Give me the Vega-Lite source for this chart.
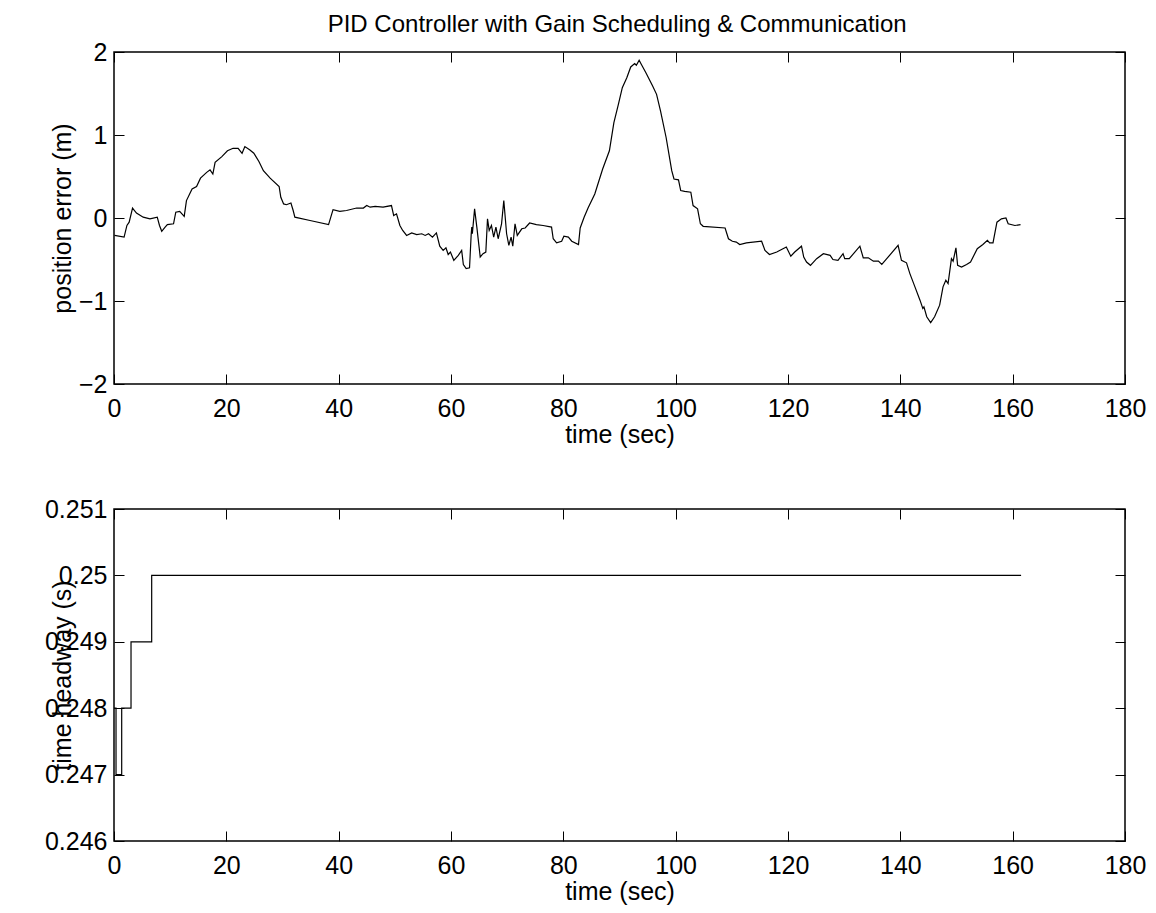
{
  "$schema": "https://vega.github.io/schema/vega-lite/v6.json",
  "background": "white",
  "padding": {"left": 43, "top": 13, "right": 5, "bottom": 5},
  "autosize": {"type": "pad"},
  "bounds": "flush",
  "spacing": 125,
  "title": {"text": "PID Controller with Gain Scheduling & Communication", "anchor": "middle", "fontSize": 24, "fontWeight": "normal", "font": "Liberation Sans", "color": "black", "offset": 2, "dx": 22},
  "config": {
    "font": "Liberation Sans",
    "view": {"stroke": "black", "strokeWidth": 1.5},
    "axis": {"grid": false, "domain": false, "tickColor": "black", "tickSize": -10, "tickWidth": 1, "labelColor": "black", "labelFontSize": 25, "labelFont": "Liberation Sans", "labelFlush": false, "labelOverlap": false, "titleFontSize": 25, "titleFont": "Liberation Sans", "titleFontWeight": "normal", "titleColor": "black"},
    "axisX": {"labelPadding": 22, "titleBaseline": "middle", "titleY": 50},
    "axisY": {"labelPadding": 17, "titleBaseline": "middle", "titleX": -52, "titleY": 166, "titleAlign": "center"}
  },
  "datasets": {
    "err": [
      {"t": 0.1, "e": -0.21}, {"t": 1.8, "e": -0.23}, {"t": 2.3, "e": -0.09}, {"t": 2.7, "e": -0.05}, {"t": 3.3, "e": 0.12},
      {"t": 4.0, "e": 0.06}, {"t": 5.2, "e": 0.01}, {"t": 6.4, "e": -0.01}, {"t": 7.7, "e": 0.01}, {"t": 8.1, "e": -0.09},
      {"t": 8.5, "e": -0.16}, {"t": 9.1, "e": -0.11}, {"t": 9.5, "e": -0.08}, {"t": 10.6, "e": -0.07}, {"t": 11.0, "e": 0.07},
      {"t": 11.7, "e": 0.08}, {"t": 12.5, "e": 0.02}, {"t": 12.9, "e": 0.21}, {"t": 13.9, "e": 0.35}, {"t": 14.7, "e": 0.38},
      {"t": 15.4, "e": 0.48}, {"t": 16.5, "e": 0.55}, {"t": 17.1, "e": 0.58}, {"t": 17.6, "e": 0.53}, {"t": 18.0, "e": 0.67},
      {"t": 19.2, "e": 0.74}, {"t": 20.2, "e": 0.81}, {"t": 21.2, "e": 0.84}, {"t": 22.1, "e": 0.84}, {"t": 22.8, "e": 0.78},
      {"t": 23.3, "e": 0.86}, {"t": 24.2, "e": 0.82}, {"t": 24.9, "e": 0.78}, {"t": 25.8, "e": 0.68}, {"t": 26.6, "e": 0.57},
      {"t": 27.8, "e": 0.48}, {"t": 29.4, "e": 0.38}, {"t": 29.7, "e": 0.25}, {"t": 30.2, "e": 0.17}, {"t": 30.7, "e": 0.16},
      {"t": 31.5, "e": 0.18}, {"t": 31.9, "e": 0.09}, {"t": 32.2, "e": 0.01}, {"t": 34.9, "e": -0.03}, {"t": 38.2, "e": -0.08},
      {"t": 38.6, "e": 0.01}, {"t": 39.0, "e": 0.10}, {"t": 40.2, "e": 0.08}, {"t": 41.4, "e": 0.09}, {"t": 43.2, "e": 0.12},
      {"t": 44.4, "e": 0.12}, {"t": 45.0, "e": 0.15}, {"t": 45.6, "e": 0.13}, {"t": 46.5, "e": 0.14}, {"t": 47.9, "e": 0.13},
      {"t": 49.4, "e": 0.15}, {"t": 49.8, "e": 0.03}, {"t": 50.3, "e": 0.05}, {"t": 50.9, "e": -0.09}, {"t": 51.4, "e": -0.15},
      {"t": 52.1, "e": -0.21}, {"t": 53.0, "e": -0.18}, {"t": 53.9, "e": -0.20}, {"t": 54.8, "e": -0.19}, {"t": 55.4, "e": -0.21},
      {"t": 56.0, "e": -0.19}, {"t": 56.7, "e": -0.23}, {"t": 57.4, "e": -0.18}, {"t": 58.0, "e": -0.34}, {"t": 58.6, "e": -0.39},
      {"t": 59.1, "e": -0.36}, {"t": 59.5, "e": -0.44}, {"t": 59.9, "e": -0.41}, {"t": 60.5, "e": -0.51}, {"t": 61.3, "e": -0.45},
      {"t": 61.9, "e": -0.39}, {"t": 62.2, "e": -0.56}, {"t": 62.7, "e": -0.61}, {"t": 63.3, "e": -0.60}, {"t": 63.6, "e": -0.19},
      {"t": 63.7, "e": -0.11}, {"t": 63.8, "e": -0.19}, {"t": 64.2, "e": 0.11}, {"t": 64.6, "e": -0.11}, {"t": 65.2, "e": -0.47},
      {"t": 65.7, "e": -0.43}, {"t": 66.2, "e": -0.41}, {"t": 66.5, "e": -0.01}, {"t": 66.8, "e": -0.15}, {"t": 67.2, "e": -0.09},
      {"t": 67.6, "e": -0.23}, {"t": 68.0, "e": -0.11}, {"t": 68.4, "e": -0.25}, {"t": 69.0, "e": -0.07}, {"t": 69.4, "e": 0.21},
      {"t": 69.9, "e": -0.19}, {"t": 70.3, "e": -0.33}, {"t": 70.7, "e": -0.23}, {"t": 71.0, "e": -0.34}, {"t": 71.4, "e": -0.07},
      {"t": 71.8, "e": -0.21}, {"t": 72.6, "e": -0.13}, {"t": 73.2, "e": -0.12}, {"t": 74.0, "e": -0.06}, {"t": 75.2, "e": -0.08},
      {"t": 76.4, "e": -0.09}, {"t": 77.9, "e": -0.11}, {"t": 78.2, "e": -0.25}, {"t": 78.8, "e": -0.30}, {"t": 79.7, "e": -0.28},
      {"t": 80.1, "e": -0.22}, {"t": 80.9, "e": -0.23}, {"t": 81.5, "e": -0.28}, {"t": 82.7, "e": -0.32}, {"t": 83.0, "e": -0.12},
      {"t": 83.7, "e": 0.01}, {"t": 84.4, "e": 0.12}, {"t": 85.6, "e": 0.29}, {"t": 87.0, "e": 0.59}, {"t": 88.2, "e": 0.81},
      {"t": 89.0, "e": 1.15}, {"t": 89.8, "e": 1.37}, {"t": 90.5, "e": 1.57}, {"t": 91.3, "e": 1.69}, {"t": 92.0, "e": 1.82},
      {"t": 92.7, "e": 1.86}, {"t": 93.0, "e": 1.84}, {"t": 93.5, "e": 1.90}, {"t": 93.9, "e": 1.85}, {"t": 94.7, "e": 1.75},
      {"t": 95.9, "e": 1.59}, {"t": 96.6, "e": 1.49}, {"t": 97.3, "e": 1.29}, {"t": 98.3, "e": 0.97}, {"t": 99.3, "e": 0.57},
      {"t": 99.7, "e": 0.47}, {"t": 100.5, "e": 0.46}, {"t": 100.9, "e": 0.33}, {"t": 101.6, "e": 0.32}, {"t": 102.7, "e": 0.31},
      {"t": 103.1, "e": 0.15}, {"t": 103.9, "e": 0.11}, {"t": 104.4, "e": -0.07}, {"t": 104.9, "e": -0.10}, {"t": 108.8, "e": -0.12},
      {"t": 109.4, "e": -0.25}, {"t": 110.1, "e": -0.28}, {"t": 110.8, "e": -0.29}, {"t": 111.4, "e": -0.32}, {"t": 112.6, "e": -0.30},
      {"t": 115.3, "e": -0.28}, {"t": 115.9, "e": -0.39}, {"t": 116.7, "e": -0.44}, {"t": 118.0, "e": -0.41}, {"t": 119.7, "e": -0.35},
      {"t": 120.5, "e": -0.46}, {"t": 121.2, "e": -0.41}, {"t": 122.4, "e": -0.34}, {"t": 122.8, "e": -0.47}, {"t": 123.3, "e": -0.53},
      {"t": 124.0, "e": -0.57}, {"t": 125.1, "e": -0.49}, {"t": 126.3, "e": -0.43}, {"t": 127.5, "e": -0.45}, {"t": 128.0, "e": -0.50},
      {"t": 128.9, "e": -0.51}, {"t": 129.8, "e": -0.43}, {"t": 130.1, "e": -0.49}, {"t": 130.9, "e": -0.49}, {"t": 132.8, "e": -0.34},
      {"t": 133.4, "e": -0.48}, {"t": 134.3, "e": -0.48}, {"t": 135.2, "e": -0.52}, {"t": 136.1, "e": -0.52}, {"t": 136.7, "e": -0.56},
      {"t": 139.6, "e": -0.33}, {"t": 140.2, "e": -0.51}, {"t": 141.1, "e": -0.54}, {"t": 141.7, "e": -0.67}, {"t": 142.6, "e": -0.83},
      {"t": 143.5, "e": -0.99}, {"t": 144.0, "e": -1.09}, {"t": 144.2, "e": -1.07}, {"t": 144.7, "e": -1.19}, {"t": 145.4, "e": -1.26},
      {"t": 146.1, "e": -1.19}, {"t": 147.0, "e": -1.05}, {"t": 147.6, "e": -0.83}, {"t": 148.1, "e": -0.75}, {"t": 148.5, "e": -0.79},
      {"t": 149.1, "e": -0.49}, {"t": 149.4, "e": -0.52}, {"t": 149.9, "e": -0.36}, {"t": 150.2, "e": -0.57}, {"t": 150.9, "e": -0.59},
      {"t": 151.8, "e": -0.56}, {"t": 152.5, "e": -0.53}, {"t": 153.7, "e": -0.37}, {"t": 154.7, "e": -0.32}, {"t": 155.5, "e": -0.27},
      {"t": 155.9, "e": -0.30}, {"t": 156.5, "e": -0.30}, {"t": 157.2, "e": -0.05}, {"t": 158.0, "e": -0.01}, {"t": 158.8, "e": 0.00},
      {"t": 159.2, "e": -0.07}, {"t": 160.4, "e": -0.09}, {"t": 161.4, "e": -0.08}
    ],
    "hw": [
      {"t": 0, "h": 0.248}, {"t": 0.36, "h": 0.247}, {"t": 1.37, "h": 0.248}, {"t": 3.03, "h": 0.249}, {"t": 6.71, "h": 0.25}, {"t": 161.5, "h": 0.25}
    ]
  },
  "vconcat": [
    {
      "width": 1011, "height": 332,
      "data": {"name": "err"},
      "layer": [
        {
          "mark": {"type": "line", "color": "black", "strokeWidth": 1.2},
          "encoding": {
            "x": {"field": "t", "type": "quantitative", "scale": {"domain": [0, 180], "nice": false}, "axis": {"orient": "bottom", "values": [0, 20, 40, 60, 80, 100, 120, 140, 160, 180], "title": "time (sec)"}},
            "y": {"field": "e", "type": "quantitative", "scale": {"domain": [-2, 2], "nice": false, "zero": false}, "axis": {"orient": "left", "values": [-2, -1, 0, 1, 2], "title": "position error (m)"}}
          }
        },
        {
          "mark": {"type": "line", "strokeOpacity": 0},
          "encoding": {
            "x": {"field": "t", "type": "quantitative", "axis": {"orient": "top", "values": [0, 20, 40, 60, 80, 100, 120, 140, 160, 180], "labels": false, "title": null}},
            "y": {"field": "e", "type": "quantitative", "axis": {"orient": "right", "values": [-2, -1, 0, 1, 2], "labels": false, "title": null}}
          }
        }
      ],
      "resolve": {"axis": {"x": "independent", "y": "independent"}}
    },
    {
      "width": 1011, "height": 332,
      "data": {"name": "hw"},
      "layer": [
        {
          "mark": {"type": "line", "color": "black", "strokeWidth": 1.2, "interpolate": "step-after"},
          "encoding": {
            "x": {"field": "t", "type": "quantitative", "scale": {"domain": [0, 180], "nice": false}, "axis": {"orient": "bottom", "values": [0, 20, 40, 60, 80, 100, 120, 140, 160, 180], "title": "time (sec)"}},
            "y": {"field": "h", "type": "quantitative", "scale": {"domain": [0.246, 0.251], "nice": false, "zero": false}, "axis": {"orient": "left", "values": [0.246, 0.247, 0.248, 0.249, 0.25, 0.251], "format": ".3~f", "title": "time headway (s)"}}
          }
        },
        {
          "mark": {"type": "line", "strokeOpacity": 0},
          "encoding": {
            "x": {"field": "t", "type": "quantitative", "axis": {"orient": "top", "values": [0, 20, 40, 60, 80, 100, 120, 140, 160, 180], "labels": false, "title": null}},
            "y": {"field": "h", "type": "quantitative", "axis": {"orient": "right", "values": [0.246, 0.247, 0.248, 0.249, 0.25, 0.251], "labels": false, "title": null}}
          }
        }
      ],
      "resolve": {"axis": {"x": "independent", "y": "independent"}}
    }
  ]
}
